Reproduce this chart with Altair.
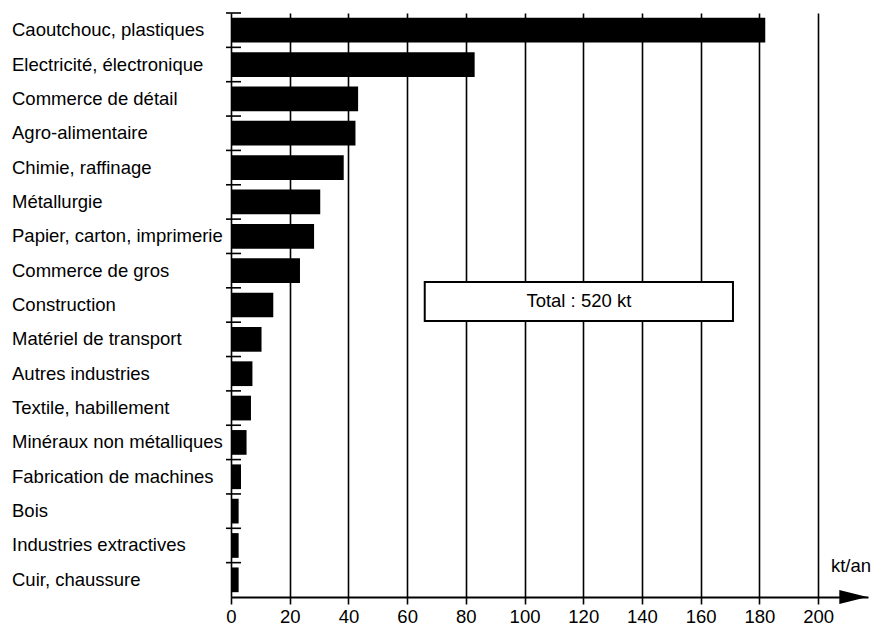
import altair as alt
import pandas as pd

categories = [
    "Caoutchouc, plastiques",
    "Electricité, électronique",
    "Commerce de détail",
    "Agro-alimentaire",
    "Chimie, raffinage",
    "Métallurgie",
    "Papier, carton, imprimerie",
    "Commerce de gros",
    "Construction",
    "Matériel de transport",
    "Autres industries",
    "Textile, habillement",
    "Minéraux non métalliques",
    "Fabrication de machines",
    "Bois",
    "Industries extractives",
    "Cuir, chaussure",
]
values = [182, 83, 43.3, 42.4, 38.4, 30.4, 28.3, 23.5, 14.4, 10.4, 7.3, 6.8, 5.3, 3.4, 2.6, 2.6, 2.6]
x_ticks = [0, 20, 40, 60, 80, 100, 120, 140, 160, 180, 200]
total_label = "Total : 520 kt"
unit_label = "kt/an"
box_x = [66, 171]

FONT = "Liberation Sans"
FS = 18.5
W, H = 637, 584

df = pd.DataFrame({"cat": categories, "val": values})
one = pd.DataFrame({"k": [0]})

xscale = alt.Scale(domain=[0, 217], nice=False, zero=True)
yscale = alt.Scale(domain=categories, paddingInner=0, paddingOuter=0)

xaxis = alt.Axis(
    values=x_ticks, grid=True, gridColor="black", gridWidth=1.6, gridOpacity=1,
    domainColor="black", domainWidth=2, tickColor="black", tickWidth=1.6,
    tickSize=7, labelFont=FONT, labelFontSize=FS, labelColor="black",
    labelPadding=3, title=None, labelFlush=False,
)

bars = alt.Chart(df).mark_bar(color="black", height={"band": 0.72}).encode(
    x=alt.X("val:Q", scale=xscale, axis=xaxis),
    y=alt.Y("cat:N", scale=yscale, sort=categories, axis=None),
)

yticks = alt.Chart(df).mark_rule(color="black", strokeWidth=1.6).encode(
    y=alt.Y("cat:N", scale=yscale, sort=categories, axis=None, bandPosition=0),
    x=alt.value(-5),
    x2=alt.value(10),
)

labels = alt.Chart(df).mark_text(
    align="left", baseline="middle", font=FONT, fontSize=FS, color="black"
).encode(
    y=alt.Y("cat:N", scale=yscale, sort=categories, axis=None),
    x=alt.value(-219),
    text="cat:N",
)

box = alt.Chart(one).mark_rect(fill="white", stroke="black", strokeWidth=2).encode(
    x=alt.datum(box_x[0], scale=xscale),
    x2=alt.datum(box_x[1]),
    y=alt.value(269),
    y2=alt.value(308),
)

box_text = alt.Chart(one).mark_text(
    align="center", baseline="middle", font=FONT, fontSize=FS, color="black"
).encode(
    x=alt.datum((box_x[0] + box_x[1]) / 2, scale=xscale),
    y=alt.value(288),
    text=alt.value(total_label),
)

unit_text = alt.Chart(one).mark_text(
    align="right", baseline="middle", font=FONT, fontSize=FS, color="black"
).encode(
    x=alt.value(W + 3),
    y=alt.value(553),
    text=alt.value(unit_label),
)

arrow = alt.Chart(one).mark_point(
    shape="M-1,-0.5L1,0L-1,0.5Z", filled=True, size=784, color="black", opacity=1
).encode(
    x=alt.datum(212, scale=xscale),
    y=alt.value(H),
)

chart = alt.layer(bars, yticks, labels, box, box_text, unit_text, arrow).properties(
    width=W, height=H,
    autosize=alt.AutoSizeParams(type="none"),
    padding={"left": 223, "top": 5, "right": 4, "bottom": 29},
    background="white",
).configure_view(stroke=None)

chart.save("out.html", embed_options={"renderer": "svg", "actions": False})
